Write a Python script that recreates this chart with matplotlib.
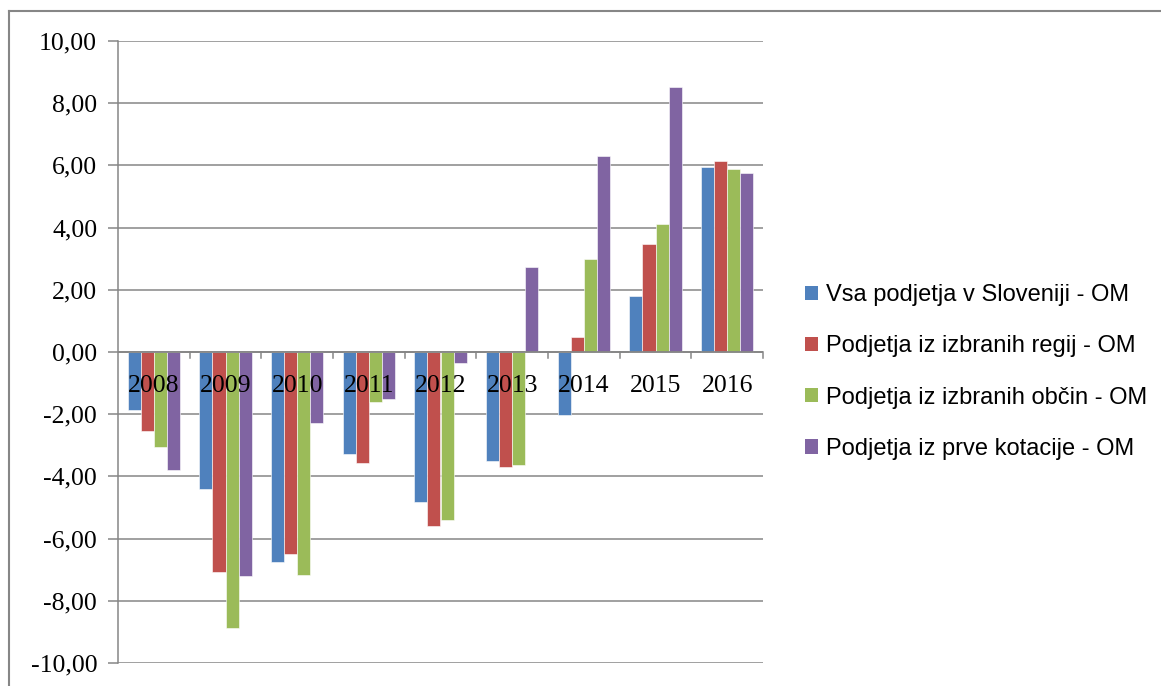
import matplotlib
matplotlib.use("Agg")
import matplotlib.pyplot as plt
from matplotlib.lines import Line2D
import numpy as np

years = ["2008", "2009", "2010", "2011", "2012", "2013", "2014", "2015", "2016"]
series_names = [
    "Vsa podjetja v Sloveniji - OM",
    "Podjetja iz izbranih regij - OM",
    "Podjetja iz izbranih občin - OM",
    "Podjetja iz prve kotacije - OM",
]
vsa = [-1.87, -4.40, -6.76, -3.28, -4.82, -3.50, -2.01, 1.80, 5.94]
regije = [-2.54, -7.06, -6.49, -3.56, -5.60, -3.69, 0.48, 3.47, 6.15]
obcine = [-3.05, -8.88, -7.18, -1.60, -5.40, -3.64, 3.00, 4.13, 5.87]
kotacija = [-3.80, -7.19, -2.28, -1.52, -0.34, 2.73, 6.29, 8.51, 5.75]
yticks = [-10, -8, -6, -4, -2, 0, 2, 4, 6, 8, 10]

colors = ["#4F81BD", "#C0504D", "#9BBB59", "#8064A2"]
grey = "#868686"

fig = plt.figure(figsize=(11.61, 6.86), dpi=100)
ax = fig.add_axes([118/1161, 1-663/686, (763-118)/1161, (663-41)/686])

x = np.arange(len(years))
bw = 0.182
data = [vsa, regije, obcine, kotacija]
for i, (vals, c, name) in enumerate(zip(data, colors, series_names)):
    ax.bar(x + (i - 1.5) * bw, vals, width=bw, color=c, edgecolor="white",
           linewidth=0.4, label=name, zorder=3)

ax.set_xlim(-0.5, len(years) - 0.5)
ax.set_ylim(-10, 10)
ax.set_yticks(yticks)
ax.set_yticklabels([f"{v:.2f}".replace(".", ",") for v in yticks],
                   fontfamily="Liberation Serif", fontsize=18.5)
ax.tick_params(axis="y", length=7, width=1.1, color=grey, pad=8)
ax.set_xticks([])
ax.grid(axis="y", color=grey, linewidth=1.1, zorder=0)
ax.set_axisbelow(True)
for s in ["top", "right", "bottom"]:
    ax.spines[s].set_visible(False)
ax.spines["left"].set_color(grey)
ax.spines["left"].set_linewidth(1.1)

# zero axis with downward ticks at category boundaries
ax.axhline(0, color=grey, linewidth=1.3, zorder=4)
for b in np.arange(0.5, len(years), 1.0):
    ax.plot([b, b], [0, -0.2], color=grey, linewidth=1.1, zorder=4,
            clip_on=False)

for xi, lab in zip(x, years):
    ax.text(xi, -1.08, lab, ha="center", va="center",
            fontfamily="Liberation Serif", fontsize=18.5, zorder=5)

leg = ax.legend(loc="upper left", bbox_to_anchor=(805/1161, 1-284/686),
                bbox_transform=fig.transFigure, frameon=False,
                prop={"family": "Liberation Sans", "size": 17},
                handlelength=0.55, handleheight=0.55, handletextpad=0.33,
                labelspacing=1.24, borderaxespad=0, borderpad=0)
for h in leg.legend_handles:
    h.set_edgecolor("none")

# outer frame (top and left visible)
fig.add_artist(Line2D([9/1161, 9/1161], [0, 1-11/686], color=grey,
                      linewidth=1.5, transform=fig.transFigure))
fig.add_artist(Line2D([9/1161, 1], [1-11/686, 1-11/686], color=grey,
                      linewidth=1.5, transform=fig.transFigure))

fig.savefig("out.png", dpi=100)
